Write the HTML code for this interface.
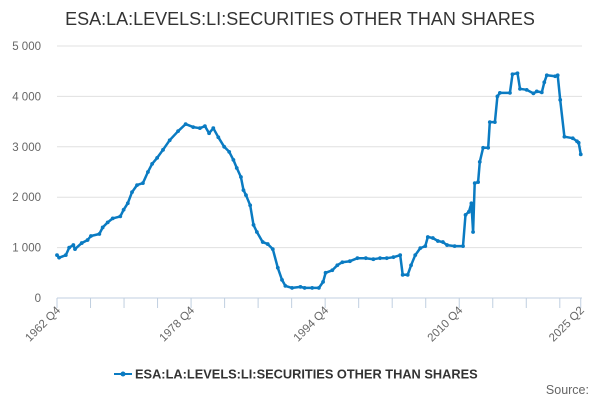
<!DOCTYPE html>
<html><head><meta charset="utf-8"><style>
body{margin:0;background:#fff;font-family:"Liberation Sans",sans-serif;}
svg text{font-family:"Liberation Sans",sans-serif;}
</style></head><body>
<svg id="c" width="600" height="400">
<text x="300" y="25" text-anchor="middle" font-size="18" fill="#333">ESA:LA:LEVELS:LI:SECURITIES OTHER THAN SHARES</text>
<g id="grid"></g><g id="yl"></g><g id="xa"></g><g id="series"></g>
<g>
<line x1="114" y1="374" x2="132" y2="374" stroke="#0a7bc2" stroke-width="2"/>
<circle cx="123" cy="374" r="2.5" fill="#0a7bc2"/>
<text x="135" y="378.5" font-size="12.8" font-weight="bold" fill="#333">ESA:LA:LEVELS:LI:SECURITIES OTHER THAN SHARES</text>
</g>
<text x="589" y="394" text-anchor="end" font-size="12.5" fill="#666">Source:</text>
</svg>
<script>
const dates=[1962.75,1963.0,1963.8,1964.2,1964.7,1964.9,1965.7,1966.4,1966.8,1967.8,1968.2,1968.8,1969.4,1970.3,1970.7,1971.2,1971.7,1972.3,1973.0,1973.6,1974.1,1974.7,1975.4,1976.2,1977.2,1978.1,1979.0,1979.8,1980.4,1980.9,1981.4,1982.0,1982.7,1983.3,1983.8,1984.2,1984.7,1985.0,1985.3,1985.8,1986.2,1986.6,1987.3,1987.9,1988.5,1989.1,1989.6,1990.0,1990.8,1991.8,1992.3,1993.2,1994.0,1994.5,1994.8,1995.6,1996.2,1996.8,1997.7,1998.6,1999.6,2000.5,2001.3,2002.1,2002.9,2003.7,2004.0,2004.6,2005.0,2005.5,2006.1,2006.7,2007.0,2007.6,2008.2,2008.8,2009.3,2010.2,2011.2,2011.5,2011.9,2012.2,2012.4,2012.6,2013.0,2013.2,2013.6,2014.2,2014.4,2015.0,2015.3,2015.6,2016.8,2017.1,2017.7,2018.0,2018.8,2019.6,2020.0,2020.6,2020.9,2021.2,2022.2,2022.5,2022.8,2023.3,2024.3,2024.8,2025.0,2025.25];
const values=[850,800,850,1000,1050,970,1090,1150,1230,1270,1400,1500,1580,1620,1750,1880,2100,2240,2280,2500,2660,2780,2940,3130,3310,3450,3390,3370,3410,3270,3370,3190,3000,2900,2740,2580,2400,2140,2040,1840,1450,1310,1110,1070,970,600,360,240,200,220,200,200,200,320,500,550,650,710,730,790,790,770,790,790,810,850,460,460,650,850,990,1030,1210,1190,1130,1110,1050,1030,1030,1650,1710,1880,1310,2280,2300,2700,2980,2980,3490,3490,4000,4070,4070,4440,4460,4150,4130,4060,4100,4080,4280,4420,4400,4420,3930,3200,3170,3110,3080,2850];
const yTicks=[0,1000,2000,3000,4000,5000];
const yTickLabels=["0","1 000","2 000","3 000","4 000","5 000"];
const xLabelDates=[1962.75,1978.75,1994.75,2010.75,2025.25];
const xLabels=["1962 Q4","1978 Q4","1994 Q4","2010 Q4","2025 Q2"];
const NS="http://www.w3.org/2000/svg";
const X=t=>57+(t-1962.75)*8.38;
const Y=v=>298-v*0.0504;
function mk(tag,attrs,parent){const e=document.createElementNS(NS,tag);for(const k in attrs)e.setAttribute(k,attrs[k]);document.getElementById(parent).appendChild(e);return e;}
yTicks.forEach((v,i)=>{
  if(v>0){const g=mk('line',{x1:57,x2:582,y1:Y(v),y2:Y(v),stroke:'#e0e0e0','stroke-width':1},'grid');
  
  }
  const t=mk('text',{x:41,y:Y(v)+4,'text-anchor':'end','font-size':11.5,fill:'#666'},'yl');
  t.textContent=yTickLabels[i];
  
  
});
const ax=mk('line',{x1:57,x2:582,y1:298,y2:298,stroke:'#c0cfe0','stroke-width':1},'xa');


for(let t=1962.75;t<2025.3;t+=4){const tk=mk('line',{x1:X(t),x2:X(t),y1:298,y2:308,stroke:'#c0cfe0'},'xa');

}
const tl=mk('line',{x1:X(2025.25),x2:X(2025.25),y1:298,y2:308,stroke:'#c0cfe0'},'xa');


xLabelDates.forEach((d,i)=>{const x=X(d)+4,y=311;
  const t=mk('text',{x:x,y:y,'text-anchor':'end','font-size':11.5,fill:'#666',transform:`rotate(-45 ${x} ${y})`},'xa');
  t.textContent=xLabels[i];
  
  
});
const pts=dates.map((d,i)=>X(d).toFixed(1)+','+Y(values[i]).toFixed(1)).join(' ');
const pl=mk('polyline',{points:pts,fill:'none',stroke:'#0a7bc2','stroke-width':2.5,'stroke-linejoin':'round'},'series');


dates.forEach((d,i)=>{const c=mk('circle',{cx:X(d),cy:Y(values[i]),r:1.9,fill:'#0a7bc2'},'series');

});
</script>
</body></html>
